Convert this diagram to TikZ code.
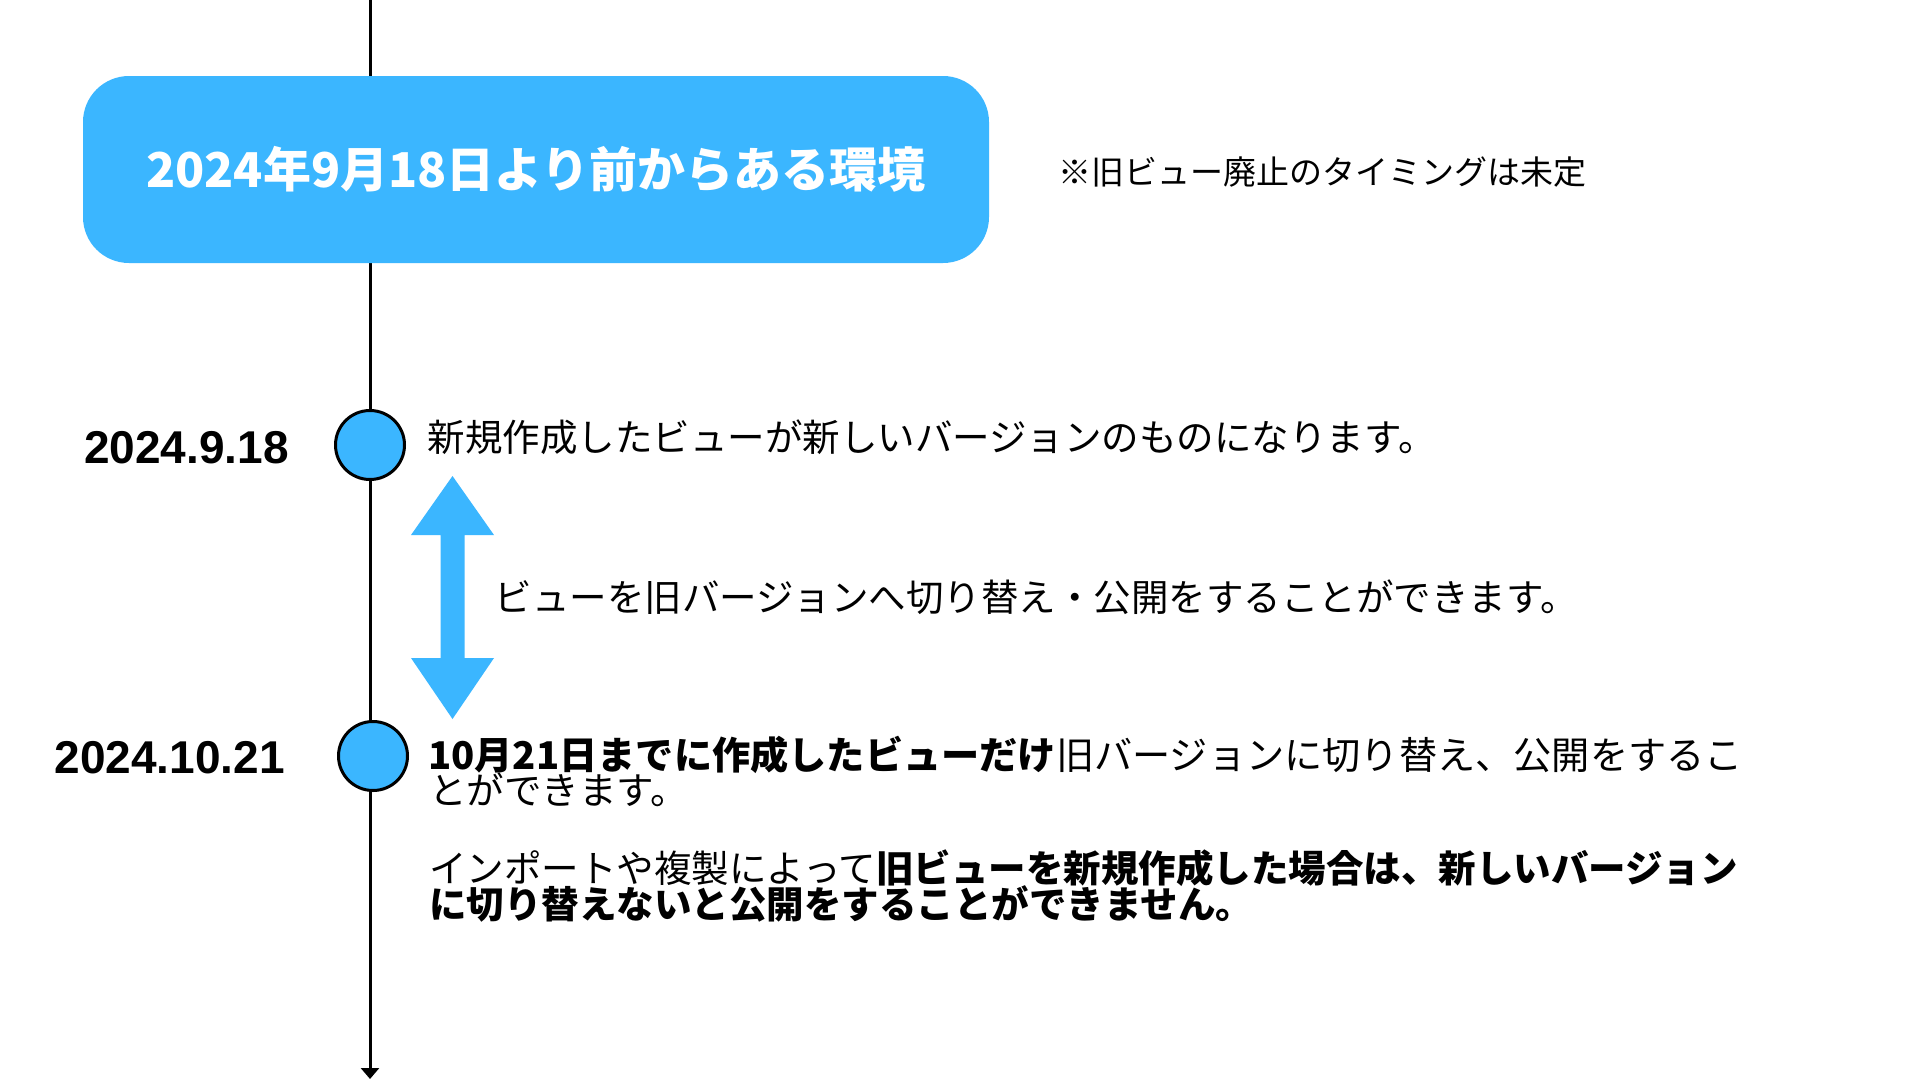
\documentclass[tikz,border=0pt]{standalone}
\usepackage{fontspec}
\setmainfont{Noto Sans CJK JP}
\newfontfamily\datefont{Liberation Sans}
\usetikzlibrary{arrows.meta}
\definecolor{skyb}{HTML}{3BB6FF}
\begin{document}
\begin{tikzpicture}[x=1pt,y=-1pt,
  tline/.style={line width=3pt,black,-{Triangle[width=18pt,length=11pt]}},
  envbox/.style={fill=skyb,draw=none,rounded corners=46pt,minimum width=906pt,minimum height=187pt,inner sep=0pt,
    text=white,font=\fontsize{48}{50}\selectfont\bfseries},
  dot/.style={circle,fill=skyb,draw=black,line width=3pt,minimum size=69pt,inner sep=0pt},
  datelab/.style={anchor=base east,inner sep=0pt,font=\datefont\fontsize{46}{48}\selectfont\bfseries},
  body/.style={anchor=base west,inner sep=0pt,font=\fontsize{37.5}{37}\selectfont},
  widebody/.style={anchor=base west,inner sep=0pt,font=\fontsize{38.2}{37}\selectfont},
  note/.style={anchor=base west,inner sep=0pt,font=\fontsize{33}{35}\selectfont},
  dblarrow/.style={fill=skyb,draw=none}]
\useasboundingbox (0,0) rectangle (1920,1080);
\fill[white] (0,0) rectangle (1920,1080);
% timeline
\coordinate (ttop) at (370,0);
\coordinate (tbot) at (370,1079);
\draw[tline] (ttop) -- (tbot);
% header box
\node[envbox] (env) at (536,169.5) {2024年9月18日より前からある環境};
\node[note] (nt) at (1058,184.5) {※旧ビュー廃止のタイミングは未定};
% events
\node[dot] (d1) at (370,445) {};
\node[dot] (d2) at (373,756) {};
\node[datelab] (l1) at (289,463) {2024.9.18};
\node[datelab] (l2) at (285,773) {2024.10.21};
\node[body] (t1) at (427.5,451) {新規作成したビューが新しいバージョンのものになります。};
% double arrow
\fill[dblarrow] (452.5,476) -- (494,535) -- (464.5,535) -- (464.5,658) -- (494,658) -- (452.5,719)
  -- (411,658) -- (440.5,658) -- (440.5,535) -- (411,535) -- cycle;
\node[body] (t2) at (494.5,611) {ビューを旧バージョンへ切り替え・公開をすることができます。};
% bottom paragraph
\node[widebody] (b1) at (428,769) {{\bfseries 10月21日までに作成したビューだけ}旧バージョンに切り替え、公開をするこ};
\node[body] (b2) at (429,804) {とができます。};
\node[body] (b3) at (429,882) {インポートや複製によって{\bfseries 旧ビューを新規作成した場合は、新しいバージョン}};
\node[body] (b4) at (429,918) {\bfseries に切り替えないと公開をすることができません。};
\end{tikzpicture}
\end{document}
